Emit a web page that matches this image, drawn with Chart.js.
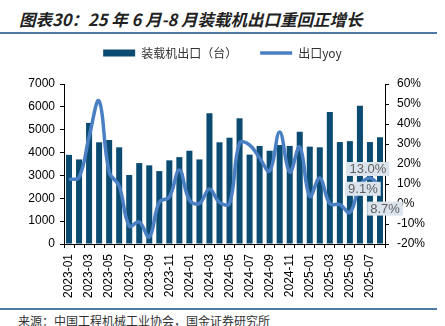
<!DOCTYPE html>
<html lang="zh">
<head>
<meta charset="utf-8">
<title>装载机出口</title>
<script src="https://cdn.jsdelivr.net/npm/chart.js@4.4.1/dist/chart.umd.min.js"></script>
<style>
    html, body { margin: 0; padding: 0; background: #fff; }
    body {
        width: 445px; height: 326px; position: relative; overflow: hidden;
        font-family: "Noto Sans CJK SC", sans-serif;
    }
    #titulo {
        position: absolute; left: 19px; top: 8px;
        font-size: 16.5px; line-height: 22px; font-weight: bold; font-style: italic;
        color: #222; white-space: nowrap;
    }
    .regla { position: absolute; left: 0; width: 437px; height: 2px; background: #4f7aa6; }
    #fuente {
        position: absolute; left: 18px; top: 313px;
        font-size: 12px; line-height: 16px; color: #333; white-space: nowrap;
    }
    #contenedor { position: absolute; left: 0; top: 24px; width: 445px; height: 281px; }
</style>
</head>
<body>
<div id="titulo">图表30：25 年 6 月-8 月装载机出口重回正增长</div>
<div class="regla" style="top:32px"></div>
<div id="contenedor"><canvas id="graficoExportaciones"></canvas></div>
<div class="regla" style="top:308px"></div>
<div id="fuente">来源：中国工程机械工业协会，国金证券研究所</div>

<script>
// Datos (2023-01 a 2025-08)
const meses = [
    '2023-01', '2023-02', '2023-03', '2023-04', '2023-05', '2023-06', '2023-07', '2023-08',
    '2023-09', '2023-10', '2023-11', '2023-12', '2024-01', '2024-02', '2024-03', '2024-04',
    '2024-05', '2024-06', '2024-07', '2024-08', '2024-09', '2024-10', '2024-11', '2024-12',
    '2025-01', '2025-02', '2025-03', '2025-04', '2025-05', '2025-06', '2025-07', '2025-08'
];

// 装载机出口（台）
const exportaciones = [
    3900, 3700, 5300, 4450, 4550, 4230, 3020, 3540,
    3440, 3190, 3660, 3800, 4080, 3700, 5720, 4450,
    4650, 5500, 3910, 4290, 4080, 4330, 4290, 4910,
    4260, 4230, 5770, 4460, 4500, 6050, 4460, 4670
];

// 出口yoy (%)
const yoy = [
    12.3, 13.3, 33.5, 51.5, 16.0, 9.0, -11.0, -9.0,
    -16.5, 1.0, 3.5, 17.0, 2.0, 0.3, 7.5, 0.8,
    0.3, 30.5, 29.5, 23.0, 16.5, 36.0, 16.0, 28.5,
    3.8, 13.0, 0.2, -0.3, -4.2, 9.1, 13.0, 8.7
];

// Rangos de los ejes
const ejeIzq = { min: 0, max: 7000, paso: 1000 };
const ejeDer = { min: -20, max: 60, paso: 10 };

// Índices con etiqueta de valor (últimos tres meses)
const indicesEtiquetados = [29, 30, 31];

// Estilos
const colorBarra = '#0b4b72';
const colorLinea = '#4a80c3';
const fuenteNum = '"Liberation Sans", Arial, sans-serif';
const fuenteCjk = '"Noto Sans CJK SC", sans-serif';

// Desplazamiento de cada etiqueta respecto a su punto (px)
const desplazamientoEtiqueta = {
    29: { dx: 3, dy: 3 },
    30: { dx: -2, dy: -9 },
    31: { dx: 5, dy: 22 }
};

/**
 * Fija la altura de la leyenda para que el área del gráfico
 * empiece a la misma altura que en el original.
 */
const ajusteLeyenda = {
    id: 'ajusteLeyenda',
    beforeInit(chart) {
        const fitOriginal = chart.legend.fit;
        chart.legend.fit = function () {
            fitOriginal.call(this);
            this.height = 60;
        };
    }
};

/**
 * Dibuja las etiquetas con fondo celeste sobre los últimos puntos de la línea.
 */
const etiquetasYoy = {
    id: 'etiquetasYoy',
    afterDatasetsDraw(chart) {
        const meta = chart.getDatasetMeta(1);
        const ctx = chart.ctx;
        ctx.save();
        ctx.font = '13px ' + fuenteNum;
        ctx.textAlign = 'center';
        ctx.textBaseline = 'middle';
        indicesEtiquetados.forEach(i => {
            const punto = meta.data[i];
            const d = desplazamientoEtiqueta[i];
            const texto = yoy[i].toFixed(1) + '%';
            const ancho = ctx.measureText(texto).width + 6;
            const alto = 14;
            const cx = punto.x + d.dx;
            const cy = punto.y + d.dy;
            ctx.fillStyle = '#dbe3ed';
            ctx.fillRect(cx - ancho / 2, cy - alto / 2, ancho, alto);
            ctx.fillStyle = '#5f5f5f';
            ctx.fillText(texto, cx, cy + 0.5);
        });
        ctx.restore();
    }
};

document.addEventListener('DOMContentLoaded', () => {
    const ctx = document.getElementById('graficoExportaciones');

    new Chart(ctx, {
        data: {
            labels: meses,
            datasets: [
                {
                    type: 'bar',
                    label: '装载机出口（台）',
                    data: exportaciones,
                    backgroundColor: colorBarra,
                    barPercentage: 0.6,
                    categoryPercentage: 1.0,
                    yAxisID: 'y',
                    order: 1
                },
                {
                    type: 'line',
                    label: '出口yoy',
                    data: yoy,
                    borderColor: colorLinea,
                    backgroundColor: colorLinea,
                    borderWidth: 3.5,
                    pointRadius: 0,
                    tension: 0.4,
                    yAxisID: 'y1',
                    order: 0
                }
            ]
        },
        options: {
            responsive: true,
            maintainAspectRatio: false,
            animation: false,
            layout: { padding: 0 },
            plugins: {
                tooltip: { enabled: false },
                legend: {
                    position: 'top',
                    labels: {
                        usePointStyle: true,
                        pointStyleWidth: 32,
                        boxHeight: 7,
                        padding: 23,
                        color: '#333',
                        font: { family: fuenteCjk, size: 12 },
                        sort: (a, b) => a.datasetIndex - b.datasetIndex,
                        generateLabels(chart) {
                            const items = Chart.defaults.plugins.legend.labels.generateLabels(chart);
                            items.forEach(item => {
                                if (item.datasetIndex === 0) {
                                    item.pointStyle = 'rect';
                                    item.lineWidth = 0;
                                    item.fillStyle = colorBarra;
                                } else {
                                    item.pointStyle = 'line';
                                    item.lineWidth = 3.5;
                                    item.strokeStyle = colorLinea;
                                }
                            });
                            return items;
                        }
                    }
                }
            },
            scales: {
                x: {
                    grid: { drawOnChartArea: false, color: '#000', tickLength: 4 },
                    border: { color: '#000' },
                    ticks: {
                        autoSkip: false,
                        maxRotation: 90,
                        minRotation: 90,
                        padding: 6,
                        color: '#000',
                        font: { family: fuenteNum, size: 12 },
                        callback: (valor, i) => (i % 2 === 0 ? meses[i] : '')
                    },
                    afterFit(escala) { escala.height = 61; }
                },
                y: {
                    position: 'left',
                    min: ejeIzq.min,
                    max: ejeIzq.max,
                    grid: { drawOnChartArea: false, color: '#000', tickLength: 4 },
                    border: { color: '#000' },
                    ticks: {
                        stepSize: ejeIzq.paso,
                        padding: 5,
                        color: '#000',
                        font: { family: fuenteNum, size: 12 },
                        callback: v => String(v)
                    },
                    afterFit(escala) { escala.width = 64; }
                },
                y1: {
                    position: 'right',
                    min: ejeDer.min,
                    max: ejeDer.max,
                    grid: { drawOnChartArea: false, color: '#000', tickLength: 4 },
                    border: { color: '#000' },
                    ticks: {
                        stepSize: ejeDer.paso,
                        padding: 8,
                        color: '#000',
                        font: { family: fuenteNum, size: 12 },
                        callback: v => v + '%'
                    },
                    afterFit(escala) { escala.width = 60; }
                }
            }
        },
        plugins: [ajusteLeyenda, etiquetasYoy]
    });
});
</script>
</body>
</html>
